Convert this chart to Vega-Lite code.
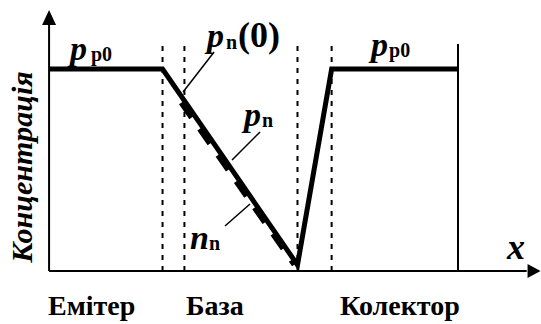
{
  "$schema": "https://vega.github.io/schema/vega-lite/v6.json",
  "width": 541,
  "height": 324,
  "autosize": {"type": "fit", "contains": "padding"},
  "padding": 0,
  "background": "white",
  "config": {"view": {"stroke": null}},
  "data": {"values": [
    {"set": "profile", "x": 0, "c": 1.0},
    {"set": "profile", "x": 27.75, "c": 1.0},
    {"set": "profile", "x": 60.75, "c": 0.03},
    {"set": "profile", "x": 69.1, "c": 1.0},
    {"set": "profile", "x": 100, "c": 1.0},
    {"set": "electrons", "x": 32.28, "c": 0.832},
    {"set": "electrons", "x": 59.92, "c": 0.03},
    {"set": "bounds", "x": 27.75, "c": 0, "x2": 27.75, "c2": 1.119},
    {"set": "bounds", "x": 33.1, "c": 0, "x2": 33.1, "c2": 1.119},
    {"set": "bounds", "x": 60.75, "c": 0, "x2": 60.75, "c2": 1.119},
    {"set": "bounds", "x": 69.1, "c": 0, "x2": 69.1, "c2": 1.119},
    {"set": "frame", "x": 0, "x2": 0, "c": 0, "c2": 1.23},
    {"set": "frame", "x": 0, "x2": 116.8, "c": 0, "c2": 0},
    {"set": "frame", "x": 100, "x2": 100, "c": 0, "c2": 1.124},
    {"set": "arrowUp", "x": 0, "c": 1.255},
    {"set": "arrowRight", "x": 118.6, "c": 0},
    {"set": "leaders", "x": 32.77, "c": 0.886, "x2": 40.35, "c2": 1.084},
    {"set": "leaders", "x": 51.59, "c": 0.688, "x2": 44.74, "c2": 0.5495},
    {"set": "leaders", "x": 49.14, "c": 0.3317, "x2": 43.02, "c2": 0.2228},
    {"set": "main", "x": 5.12, "c": 1.0446, "text": "p"},
    {"set": "sub", "x": 10.25, "c": 1.0396, "text": "p0"},
    {"set": "main", "x": 78.73, "c": 1.0644, "text": "p"},
    {"set": "sub", "x": 83.13, "c": 1.0594, "text": "p0"},
    {"set": "main", "x": 38.62, "c": 1.109, "text": "p"},
    {"set": "sub", "x": 43.27, "c": 1.099, "text": "n"},
    {"set": "paren", "x": 46.2, "c": 1.109, "text": "(0)"},
    {"set": "main", "x": 47.67, "c": 0.718, "text": "p"},
    {"set": "sub", "x": 52.07, "c": 0.713, "text": "n"},
    {"set": "main", "x": 34.47, "c": 0.1089, "text": "n"},
    {"set": "sub", "x": 39.11, "c": 0.104, "text": "n"},
    {"set": "axisvar", "x": 111.99, "c": 0.0594, "text": "x"},
    {"set": "region", "x": -0.26, "c": -0.178, "text": "Емітер"},
    {"set": "region", "x": 33.49, "c": -0.178, "text": "База"},
    {"set": "region", "x": 71.15, "c": -0.178, "text": "Колектор"},
    {"set": "ytitle", "x": -4.16, "c": 0.515, "text": "Концентрація"}
  ]},
  "layer": [
    {
      "transform": [{"filter": "datum.set === 'bounds'"}],
      "mark": {"type": "rule", "color": "black", "strokeWidth": 2, "strokeDash": [5, 6]},
      "encoding": {
        "x": {"field": "x", "type": "quantitative", "scale": {"domain": [-12, 120.3], "nice": false, "zero": false}, "axis": null},
        "y": {"field": "c", "type": "quantitative", "scale": {"domain": [-0.2624, 1.3416], "nice": false, "zero": false}, "axis": null},
        "y2": {"field": "c2"}
      }
    },
    {
      "transform": [{"filter": "datum.set === 'frame'"}],
      "mark": {"type": "rule", "color": "black", "strokeWidth": 2},
      "encoding": {
        "x": {"field": "x", "type": "quantitative"},
        "x2": {"field": "x2"},
        "y": {"field": "c", "type": "quantitative"},
        "y2": {"field": "c2"}
      }
    },
    {
      "transform": [{"filter": "datum.set === 'arrowUp'"}],
      "mark": {"type": "point", "filled": true, "color": "black", "opacity": 1, "size": 225, "shape": "M0,-1L0.93,1L-0.93,1Z"},
      "encoding": {
        "x": {"field": "x", "type": "quantitative"},
        "y": {"field": "c", "type": "quantitative"}
      }
    },
    {
      "transform": [{"filter": "datum.set === 'arrowRight'"}],
      "mark": {"type": "point", "filled": true, "color": "black", "opacity": 1, "size": 169, "shape": "M1,0L-1,-1.08L-1,1.08Z"},
      "encoding": {
        "x": {"field": "x", "type": "quantitative"},
        "y": {"field": "c", "type": "quantitative"}
      }
    },
    {
      "transform": [{"filter": "datum.set === 'leaders'"}],
      "mark": {"type": "rule", "color": "black", "strokeWidth": 1.5},
      "encoding": {
        "x": {"field": "x", "type": "quantitative"},
        "x2": {"field": "x2"},
        "y": {"field": "c", "type": "quantitative"},
        "y2": {"field": "c2"}
      }
    },
    {
      "transform": [{"filter": "datum.set === 'electrons'"}],
      "mark": {"type": "line", "color": "black", "strokeWidth": 5, "strokeDash": [18, 14], "strokeCap": "butt"},
      "encoding": {
        "x": {"field": "x", "type": "quantitative"},
        "y": {"field": "c", "type": "quantitative"}
      }
    },
    {
      "transform": [{"filter": "datum.set === 'profile'"}],
      "mark": {"type": "line", "color": "black", "strokeWidth": 5, "strokeJoin": "miter"},
      "encoding": {
        "x": {"field": "x", "type": "quantitative"},
        "y": {"field": "c", "type": "quantitative"}
      }
    },
    {
      "transform": [{"filter": "datum.set === 'main'"}],
      "mark": {"type": "text", "font": "Liberation Serif", "fontSize": 34, "fontStyle": "italic", "fontWeight": "bold", "align": "left", "baseline": "alphabetic"},
      "encoding": {
        "x": {"field": "x", "type": "quantitative"},
        "y": {"field": "c", "type": "quantitative"},
        "text": {"field": "text"}
      }
    },
    {
      "transform": [{"filter": "datum.set === 'sub'"}],
      "mark": {"type": "text", "font": "Liberation Serif", "fontSize": 20, "fontWeight": "bold", "align": "left", "baseline": "alphabetic"},
      "encoding": {
        "x": {"field": "x", "type": "quantitative"},
        "y": {"field": "c", "type": "quantitative"},
        "text": {"field": "text"}
      }
    },
    {
      "transform": [{"filter": "datum.set === 'paren'"}],
      "mark": {"type": "text", "font": "Liberation Serif", "fontSize": 36, "fontWeight": "bold", "align": "left", "baseline": "alphabetic"},
      "encoding": {
        "x": {"field": "x", "type": "quantitative"},
        "y": {"field": "c", "type": "quantitative"},
        "text": {"field": "text"}
      }
    },
    {
      "transform": [{"filter": "datum.set === 'axisvar'"}],
      "mark": {"type": "text", "font": "Liberation Serif", "fontSize": 36, "fontStyle": "italic", "fontWeight": "bold", "align": "left", "baseline": "alphabetic"},
      "encoding": {
        "x": {"field": "x", "type": "quantitative"},
        "y": {"field": "c", "type": "quantitative"},
        "text": {"field": "text"}
      }
    },
    {
      "transform": [{"filter": "datum.set === 'region'"}],
      "mark": {"type": "text", "font": "Liberation Serif", "fontSize": 28, "fontWeight": "bold", "align": "left"},
      "encoding": {
        "x": {"field": "x", "type": "quantitative"},
        "y": {"field": "c", "type": "quantitative"},
        "text": {"field": "text"}
      }
    },
    {
      "transform": [{"filter": "datum.set === 'ytitle'"}],
      "mark": {"type": "text", "font": "Liberation Serif", "fontSize": 30, "fontStyle": "italic", "fontWeight": "bold", "align": "center", "baseline": "alphabetic", "angle": 270},
      "encoding": {
        "x": {"field": "x", "type": "quantitative"},
        "y": {"field": "c", "type": "quantitative"},
        "text": {"field": "text"}
      }
    }
  ]
}
